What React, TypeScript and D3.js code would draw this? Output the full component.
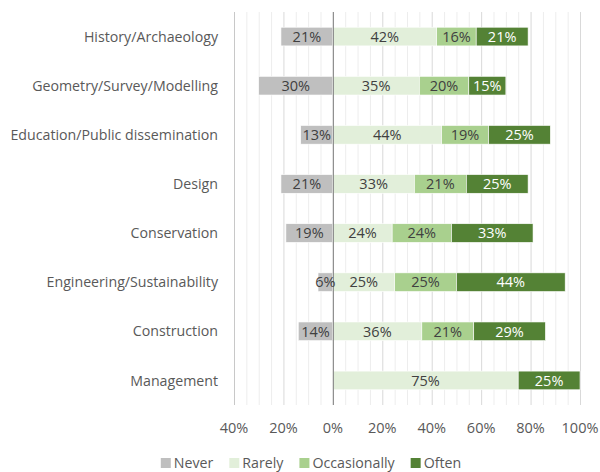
import React, { useEffect, useRef } from "react";
import * as d3 from "d3";

const categories = [
  "History/Archaeology",
  "Geometry/Survey/Modelling",
  "Education/Public dissemination",
  "Design",
  "Conservation",
  "Engineering/Sustainability",
  "Construction",
  "Management",
];
const seriesNames = ["Never", "Rarely", "Occasionally", "Often"];
const never = [21, 30, 13, 21, 19, 6, 14, 0];
const rarely = [42, 35, 44, 33, 24, 25, 36, 75];
const occasionally = [16, 20, 19, 21, 24, 25, 21, 0];
const often = [21, 15, 25, 25, 33, 44, 29, 25];
const tickValues = [-40, -20, 0, 20, 40, 60, 80, 100];
const tickLabels = ["40%", "20%", "0%", "20%", "40%", "60%", "80%", "100%"];

const colors = ["#BFBFBF", "#E2EFDA", "#A9D08E", "#548235"];
const textColors = ["#404040", "#404040", "#404040", "#FFFFFF"];

const W = 600;
const H = 472;
const FONT = "'Open Sans', Lato, sans-serif";

export default function App() {
  const ref = useRef<SVGSVGElement>(null);
  useEffect(() => {
    const svg = d3.select(ref.current);
    svg.selectAll("*").remove();

    const x = d3.scaleLinear().domain([-40, 100]).range([234, 580]);
    const y = d3
      .scaleBand()
      .domain(categories)
      .range([12, 405])
      .paddingInner(0.62)
      .paddingOuter(0.31);

    const gTop = 12;
    const gBottom = 405;

    const minor = d3.range(-40, 101, 5).filter((v) => v % 20 !== 0);
    svg
      .append("g")
      .selectAll("line")
      .data(minor)
      .join("line")
      .attr("x1", (d) => x(d) + 0.5)
      .attr("x2", (d) => x(d) + 0.5)
      .attr("y1", gTop)
      .attr("y2", gBottom)
      .attr("stroke", "#EDEDED")
      .attr("stroke-width", 1);
    svg
      .append("g")
      .selectAll("line")
      .data(tickValues.filter((v) => v !== 0))
      .join("line")
      .attr("x1", (d) => x(d) + 0.5)
      .attr("x2", (d) => x(d) + 0.5)
      .attr("y1", gTop)
      .attr("y2", gBottom)
      .attr("stroke", (d) => (d === -40 ? "#C8C8C8" : "#D9D9D9"))
      .attr("stroke-width", 1);

    const series = [never, rarely, occasionally, often];
    const rows = categories.map((c, i) => {
      const segs: { s: number; x0: number; x1: number; v: number }[] = [];
      if (never[i] > 0) segs.push({ s: 0, x0: -never[i], x1: 0, v: never[i] });
      let acc = 0;
      for (let s = 1; s < 4; s++) {
        const v = series[s][i];
        if (v > 0) segs.push({ s, x0: acc, x1: acc + v, v });
        acc += v;
      }
      return { c, segs };
    });

    const bars = svg.append("g");
    rows.forEach((r) => {
      const g = bars.append("g");
      g.selectAll("rect")
        .data(r.segs)
        .join("rect")
        .attr("x", (d) => x(d.x0))
        .attr("width", (d) => x(d.x1) - x(d.x0))
        .attr("y", y(r.c)!)
        .attr("height", y.bandwidth())
        .attr("fill", (d) => colors[d.s])
        .attr("stroke", "#FFFFFF")
        .attr("stroke-width", 0.6);
    });

    svg
      .append("line")
      .attr("x1", x(0) + 0.5)
      .attr("x2", x(0) + 0.5)
      .attr("y1", gTop)
      .attr("y2", gBottom)
      .attr("stroke", "#8C8C8C")
      .attr("stroke-width", 1.2);

    rows.forEach((r) => {
      svg
        .append("g")
        .selectAll("text")
        .data(r.segs)
        .join("text")
        .attr("x", (d) => (x(d.x0) + x(d.x1)) / 2)
        .attr("y", y(r.c)! + y.bandwidth() / 2)
        .attr("dy", "0.36em")
        .attr("text-anchor", "middle")
        .attr("font-family", FONT)
        .attr("font-size", 14.5)
        .attr("fill", (d) => textColors[d.s])
        .text((d) => `${d.v}%`);
    });

    svg
      .append("g")
      .selectAll("text")
      .data(categories)
      .join("text")
      .attr("x", 218)
      .attr("y", (d) => y(d)! + y.bandwidth() / 2)
      .attr("dy", "0.36em")
      .attr("text-anchor", "end")
      .attr("font-family", FONT)
      .attr("font-size", 14.2)
      .attr("fill", "#595959")
      .text((d) => d);

    svg
      .append("g")
      .selectAll("text")
      .data(tickValues)
      .join("text")
      .attr("x", (d) => x(d))
      .attr("y", 428)
      .attr("dy", "0.36em")
      .attr("text-anchor", "middle")
      .attr("font-family", FONT)
      .attr("font-size", 14.5)
      .attr("fill", "#595959")
      .text((d, i) => tickLabels[i]);

    const lg = svg.append("g");
    const items = seriesNames.map((n, i) => {
      const t = lg
        .append("text")
        .attr("font-family", FONT)
        .attr("font-size", 14.2)
        .attr("fill", "#595959")
        .attr("y", 463)
        .attr("dy", "0.36em")
        .text(n);
      const w = (t.node() as SVGTextElement).getComputedTextLength();
      return { t, w, i };
    });
    const sq = 10;
    const gapSq = 3;
    const gapItem = 16;
    const total =
      d3.sum(items, (d) => d.w + sq + gapSq) + gapItem * (items.length - 1);
    let cx = 311 - total / 2;
    items.forEach((it) => {
      lg.append("rect")
        .attr("x", cx)
        .attr("y", 463 - sq / 2)
        .attr("width", sq)
        .attr("height", sq)
        .attr("fill", colors[it.i]);
      it.t.attr("x", cx + sq + gapSq);
      cx += sq + gapSq + it.w + gapItem;
    });
  }, []);

  return (
    <svg
      ref={ref}
      width={W}
      height={H}
      style={{ position: "fixed", left: 0, top: 0, background: "#fff" }}
    />
  );
}
